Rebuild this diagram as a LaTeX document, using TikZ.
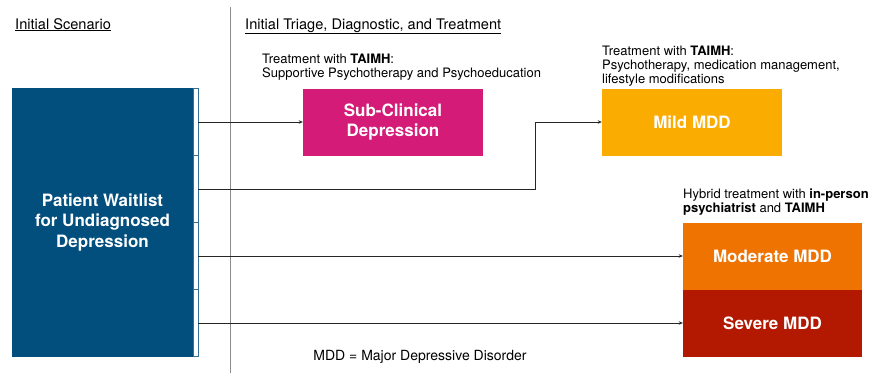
\documentclass[tikz,border=0pt]{standalone}
\usepackage{xcolor}
\usepackage{fontspec}
\setmainfont{TeX Gyre Heros}
\usetikzlibrary{arrows.meta}
\definecolor{waitblue}{RGB}{2,78,125}
\definecolor{subpink}{RGB}{212,27,119}
\definecolor{mildamber}{RGB}{251,172,0}
\definecolor{modorange}{RGB}{239,115,0}
\definecolor{sevred}{RGB}{179,24,0}

\begin{document}
\begin{tikzpicture}[x=1pt,y=-1pt]
		\tikzstyle{every node}+=[inner sep=0pt]
		\tikzstyle{stagebox}=[minimum width=180pt, minimum height=67pt, text=white, align=center, font=\fontsize{17}{20.5}\selectfont\bfseries]
		\tikzstyle{tabbox}=[draw=waitblue!80, fill=white, line width=0.6pt, minimum width=5pt, minimum height=67pt]
		\tikzstyle{note}=[align=left, anchor=base west, font=\fontsize{13}{14}\selectfont]
		\tikzstyle{flow}=[draw=black!85, line width=0.8pt, -{Stealth[length=4pt,width=3.5pt]}]
		\useasboundingbox (0,0) rectangle (873,373);
		% section headers
		\draw [black!45, line width=1pt] (230,7) -- (230,373);
		\node [anchor=base west, font=\fontsize{14.6}{17}\selectfont] (hscen) at (15,29) {\underline{Initial Scenario}};
		\node [anchor=base west, font=\fontsize{14.6}{17}\selectfont] (htriage) at (245,29) {\underline{Initial Triage, Diagnostic, and Treatment}};
		% waitlist box with its four outlets
		\node [stagebox, fill=waitblue, minimum width=181pt, minimum height=269pt] (wait) at (102.5,222.5) {Patient Waitlist\\for Undiagnosed\\Depression};
		\node [tabbox] (tab1) at (195.5,122) {};
		\node [tabbox] (tab2) at (195.5,189) {};
		\node [tabbox] (tab3) at (195.5,256) {};
		\node [tabbox] (tab4) at (195.5,323) {};
		% severity outcomes
		\node [stagebox, fill=subpink] (subc) at (393,122) {Sub-Clinical\\Depression};
		\node [stagebox, fill=mildamber] (mild) at (692,122) {Mild MDD};
		\node [stagebox, fill=modorange, minimum width=179pt] (moder) at (772.5,256.5) {Moderate MDD};
		\node [stagebox, fill=sevred, minimum width=179pt] (severe) at (772.5,323.5) {Severe MDD};
		% treatment notes (base = last line)
		\node [note] (nsub) at (262,77) {Treatment with \textbf{TAIMH}:\\Supportive Psychotherapy and Psychoeducation};
		\node [note] (nmild) at (602,83) {Treatment with \textbf{TAIMH}:\\Psychotherapy, medication management,\\lifestyle modifications};
		\node [note] (nhyb) at (683,212) {Hybrid treatment with \textbf{in-person}\\\textbf{psychiatrist} and \textbf{TAIMH}};
		\node [anchor=base, font=\fontsize{14}{16}\selectfont] (legend) at (420,360) {MDD = Major Depressive Disorder};
		% connectors
		\coordinate (bend) at (535,189);
		\draw [flow] (tab1.east) -- (subc.west);
		\draw [flow] (tab2.east) -- (bend) |- (mild.west);
		\draw [flow] (tab3.east) -- (tab3.east -| moder.west);
		\draw [flow] (tab4.east) -- (tab4.east -| severe.west);
		\end{tikzpicture}
\end{document}
